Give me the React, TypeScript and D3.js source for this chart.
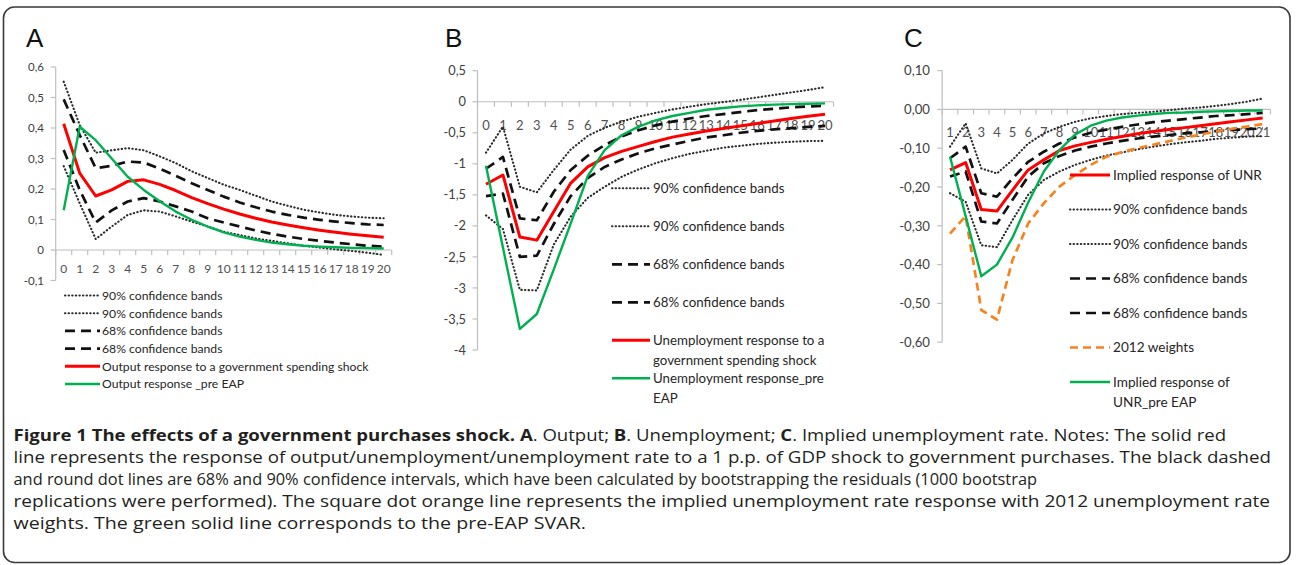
import React from 'react';
import * as d3 from 'd3';

// ---------- DATA ----------
const catsA = [0, 1, 2, 3, 4, 5, 6, 7, 8, 9, 10, 11, 12, 13, 14, 15, 16, 17, 18, 19, 20];
const catsB = [0, 1, 2, 3, 4, 5, 6, 7, 8, 9, 10, 11, 12, 13, 14, 15, 16, 17, 18, 19, 20];
const catsC = [1, 2, 3, 4, 5, 6, 7, 8, 9, 10, 11, 12, 13, 14, 15, 16, 17, 18, 19, 20, 21];

const yTicksA = [-0.1, 0, 0.1, 0.2, 0.3, 0.4, 0.5, 0.6];
const yLabelsA = ['-0,1', '0', '0,1', '0,2', '0,3', '0,4', '0,5', '0,6'];
const yTicksB = [-4, -3.5, -3, -2.5, -2, -1.5, -1, -0.5, 0, 0.5];
const yLabelsB = ['-4', '-3,5', '-3', '-2,5', '-2', '-1,5', '-1', '-0,5', '0', '0,5'];
const yTicksC = [-0.6, -0.5, -0.4, -0.3, -0.2, -0.1, 0, 0.1];
const yLabelsC = ['-0,60', '-0,50', '-0,40', '-0,30', '-0,20', '-0,10', '0,00', '0,10'];

// Panel A: Output
const up90A = [0.552, 0.41, 0.319, 0.327, 0.334, 0.327, 0.307, 0.285, 0.258, 0.236, 0.214, 0.197, 0.178, 0.159, 0.145, 0.132, 0.123, 0.115, 0.11, 0.106, 0.104];
const lo90A = [0.275, 0.153, 0.036, 0.077, 0.115, 0.13, 0.126, 0.11, 0.093, 0.077, 0.06, 0.049, 0.038, 0.03, 0.022, 0.014, 0.008, 0.002, -0.003, -0.009, -0.016];
const up68A = [0.494, 0.377, 0.268, 0.276, 0.29, 0.287, 0.267, 0.243, 0.219, 0.197, 0.175, 0.156, 0.14, 0.126, 0.115, 0.106, 0.099, 0.093, 0.088, 0.084, 0.082];
const lo68A = [0.328, 0.197, 0.09, 0.13, 0.159, 0.17, 0.159, 0.143, 0.126, 0.104, 0.09, 0.077, 0.064, 0.053, 0.044, 0.036, 0.03, 0.024, 0.019, 0.014, 0.011];
const redA = [0.414, 0.252, 0.177, 0.197, 0.225, 0.23, 0.215, 0.195, 0.172, 0.152, 0.134, 0.118, 0.104, 0.092, 0.082, 0.073, 0.065, 0.058, 0.052, 0.047, 0.042];
const greenA = [0.13, 0.404, 0.36, 0.3, 0.24, 0.197, 0.16, 0.126, 0.099, 0.077, 0.058, 0.044, 0.033, 0.024, 0.019, 0.014, 0.011, 0.009, 0.007, 0.006, 0.005];

// Panel B: Unemployment
const up90B = [-0.82, -0.4, -1.37, -1.46, -1.1, -0.77, -0.55, -0.42, -0.32, -0.24, -0.18, -0.124, -0.08, -0.038, -0.005, 0.03, 0.07, 0.11, 0.15, 0.19, 0.235];
const lo90B = [-1.83, -2.05, -3.03, -3.04, -2.3, -1.85, -1.55, -1.37, -1.21, -1.09, -0.99, -0.91, -0.84, -0.79, -0.74, -0.71, -0.68, -0.66, -0.645, -0.634, -0.63];
const up68B = [-1.08, -0.89, -1.88, -1.91, -1.45, -1.1, -0.87, -0.7, -0.56, -0.46, -0.38, -0.32, -0.27, -0.23, -0.2, -0.167, -0.134, -0.113, -0.09, -0.075, -0.065];
const lo68B = [-1.52, -1.48, -2.5, -2.48, -1.97, -1.52, -1.23, -1.05, -0.93, -0.83, -0.75, -0.69, -0.63, -0.575, -0.54, -0.5, -0.47, -0.446, -0.425, -0.405, -0.39];
const redB = [-1.33, -1.18, -2.18, -2.23, -1.77, -1.31, -1.05, -0.9, -0.8, -0.72, -0.64, -0.57, -0.52, -0.47, -0.43, -0.39, -0.35, -0.31, -0.27, -0.235, -0.2];
const greenB = [-1.03, -2.35, -3.66, -3.42, -2.7, -1.96, -1.2, -0.78, -0.54, -0.4, -0.3, -0.23, -0.18, -0.13, -0.1, -0.075, -0.058, -0.046, -0.038, -0.032, -0.027];

// Panel C: Implied unemployment rate
const redC = [-0.156, -0.137, -0.258, -0.262, -0.208, -0.156, -0.13, -0.106, -0.094, -0.085, -0.077, -0.07, -0.063, -0.057, -0.052, -0.047, -0.042, -0.037, -0.032, -0.027, -0.022];
const up90C = [-0.096, -0.036, -0.152, -0.165, -0.13, -0.088, -0.062, -0.045, -0.032, -0.023, -0.017, -0.012, -0.009, -0.006, -0.002, 0.002, 0.005, 0.009, 0.014, 0.02, 0.028];
const lo90C = [-0.216, -0.238, -0.35, -0.355, -0.285, -0.22, -0.182, -0.16, -0.143, -0.13, -0.119, -0.111, -0.103, -0.096, -0.09, -0.085, -0.081, -0.076, -0.073, -0.07, -0.069];
const up68C = [-0.126, -0.096, -0.216, -0.225, -0.178, -0.135, -0.109, -0.088, -0.072, -0.06, -0.052, -0.045, -0.039, -0.033, -0.029, -0.025, -0.021, -0.017, -0.015, -0.012, -0.009];
const lo68C = [-0.173, -0.16, -0.289, -0.294, -0.233, -0.173, -0.139, -0.12, -0.106, -0.096, -0.088, -0.081, -0.075, -0.07, -0.066, -0.062, -0.059, -0.056, -0.053, -0.051, -0.049];
const orangeC = [-0.32, -0.275, -0.517, -0.542, -0.388, -0.294, -0.242, -0.199, -0.169, -0.143, -0.122, -0.11, -0.1, -0.091, -0.082, -0.073, -0.065, -0.057, -0.05, -0.044, -0.038];
const greenC = [-0.122, -0.275, -0.43, -0.4, -0.33, -0.24, -0.16, -0.105, -0.065, -0.042, -0.029, -0.021, -0.016, -0.012, -0.009, -0.008, -0.006, -0.005, -0.004, -0.003, -0.003];

const legendA = [
  ['90% confidence bands'], ['90% confidence bands'], ['68% confidence bands'], ['68% confidence bands'],
  ['Output response to a government spending shock'], ['Output response _pre EAP'],
];
const legendB = [
  ['90% confidence bands'], ['90% confidence bands'], ['68% confidence bands'], ['68% confidence bands'],
  ['Unemployment response to a', 'government spending shock'], ['Unemployment response_pre', 'EAP'],
];
const legendC = [
  ['Implied response of UNR'], ['90% confidence bands'], ['90% confidence bands'], ['68% confidence bands'],
  ['68% confidence bands'], ['2012 weights'], ['Implied response of', 'UNR_pre EAP'],
];

const captionLines = [
  [
    { t: 'Figure 1 The effects of a government purchases shock. A', b: true },
    { t: '. Output; ', b: false },
    { t: 'B', b: true },
    { t: '. Unemployment; ', b: false },
    { t: 'C', b: true },
    { t: '. Implied unemployment rate. Notes: The solid red', b: false },
  ],
  [{ t: 'line represents the response of output/unemployment/unemployment rate to a 1 p.p. of GDP shock to government purchases. The black dashed', b: false }],
  [{ t: 'and round dot lines are 68% and 90% confidence intervals, which have been calculated by bootstrapping the residuals (1000 bootstrap', b: false }],
  [{ t: 'replications were performed). The square dot orange line represents the implied unemployment rate response with 2012 unemployment rate', b: false }],
  [{ t: 'weights. The green solid line corresponds to the pre-EAP SVAR.', b: false }],
];
const captionEnds = [1226, 1271, 1037, 1270, 586];

// ---------- STYLES ----------
type St = { stroke: string; w: number; dash?: string; cap?: 'round' | 'butt' };
const S: Record<string, St> = {
  dot: { stroke: '#2b2b2b', w: 2.1, dash: '0.4 3.2', cap: 'round' },
  dash: { stroke: '#111', w: 2.7, dash: '10 6', cap: 'butt' },
  red: { stroke: '#ff0000', w: 3 },
  green: { stroke: '#00b050', w: 2.4 },
  orange: { stroke: '#f5841f', w: 2.7, dash: '8 5', cap: 'butt' },
};

const FONT = 'Lato, "Open Sans", sans-serif';

type PanelProps = {
  letter: string; letterX: number;
  cats: number[]; xStart: number; xEnd: number;
  yDomain: [number, number]; yRange: [number, number];
  yTicks: number[]; yLabels: string[]; yFs: number; yLabelX: number;
  xFs: number; xLabelOff: number;
  series: { v: number[]; s: St }[];
  legend: { labels: string[][]; styles: St[]; top: number; step: number; x0: number; x1: number; tx: number; fs: number; lh: number };
};

function Panel(p: PanelProps) {
  const x = d3.scaleBand<number>().domain(p.cats).range([p.xStart, p.xEnd]);
  const bw = x.bandwidth();
  const cx = (c: number) => (x(c) as number) + bw / 2;
  const y = d3.scaleLinear().domain(p.yDomain).range(p.yRange);
  const y0 = y(0);
  const mk = (vals: number[]) =>
    d3.line<number>().x((_, i) => cx(p.cats[i])).y((v) => y(v))(vals) || '';
  const bounds = [...p.cats.map((c) => x(c) as number), p.xEnd];
  const L = p.legend;
  return (
    <g>
      <text x={p.letterX} y={47} fontFamily='"Liberation Sans", Arial, sans-serif' fontSize={26} fill="#111">{p.letter}</text>
      {/* y axis */}
      <line x1={p.xStart} x2={p.xStart} y1={y(p.yDomain[0])} y2={y(p.yDomain[1])} stroke="#bfbfbf" strokeWidth={1.2} />
      {p.yTicks.map((t, i) => (
        <g key={'yt' + i}>
          <line x1={p.xStart - 5} x2={p.xStart} y1={y(t)} y2={y(t)} stroke="#bfbfbf" strokeWidth={1.2} />
          <text x={p.yLabelX} y={y(t)} dy="0.36em" textAnchor="end" fontFamily={FONT} fontSize={p.yFs} fill="#404040">{p.yLabels[i]}</text>
        </g>
      ))}
      {/* x axis */}
      <line x1={p.xStart} x2={p.xEnd} y1={y0} y2={y0} stroke="#bfbfbf" strokeWidth={1.2} />
      {bounds.map((b, i) => (
        <line key={'xt' + i} x1={b} x2={b} y1={y0} y2={y0 + 5} stroke="#bfbfbf" strokeWidth={1.2} />
      ))}
      {p.cats.map((c) => (
        <text key={'xl' + c} x={cx(c)} y={y0 + p.xLabelOff} dy="0.36em" textAnchor="middle" fontFamily={FONT} fontSize={p.xFs} fill="#505050">{String(c)}</text>
      ))}
      {/* series */}
      {p.series.map((sr, i) => (
        <path key={'s' + i} d={mk(sr.v)} fill="none" stroke={sr.s.stroke} strokeWidth={sr.s.w}
          strokeDasharray={sr.s.dash} strokeLinecap={sr.s.cap || 'butt'} strokeLinejoin="round" />
      ))}
      {/* legend */}
      {L.labels.map((lab, i) => {
        const ly = L.top + L.step * i;
        const st = L.styles[i];
        return (
          <g key={'lg' + i}>
            <line x1={L.x0} x2={L.x1} y1={ly} y2={ly} stroke={st.stroke} strokeWidth={st.w}
              strokeDasharray={st.dash} strokeLinecap={st.cap || 'butt'} />
            {lab.map((t, j) => (
              <text key={j} x={L.tx} y={ly + j * L.lh} dy="0.36em" fontFamily={FONT} fontSize={L.fs} fill="#262626">{t}</text>
            ))}
          </g>
        );
      })}
    </g>
  );
}

export default function App() {
  const W = 1299, H = 565;
  return (
    <svg width={W} height={H} style={{ position: 'absolute', left: 0, top: 0, background: '#fff' }}>
      <rect x={0} y={0} width={W} height={H} fill="#fff" />
      <rect x={3.5} y={7} width={1286.5} height={555.5} rx={11} fill="none" stroke="#3a3a3a" strokeWidth={1.6} />

      <Panel letter="A" letterX={26} cats={catsA} xStart={55.7} xEnd={391.7}
        yDomain={[-0.1, 0.6]} yRange={[280.5, 67]} yTicks={yTicksA} yLabels={yLabelsA} yFs={11.5} yLabelX={44}
        xFs={12} xLabelOff={19}
        series={[
          { v: up90A, s: S.dot }, { v: lo90A, s: S.dot }, { v: up68A, s: S.dash }, { v: lo68A, s: S.dash },
          { v: redA, s: S.red }, { v: greenA, s: S.green },
        ]}
        legend={{ labels: legendA, styles: [S.dot, S.dot, S.dash, S.dash, S.red, S.green], top: 295.5, step: 17.7, x0: 65, x1: 100, tx: 102, fs: 12.2, lh: 0 }}
      />
      <Panel letter="B" letterX={445} cats={catsB} xStart={477.5} xEnd={833.5}
        yDomain={[-4, 0.5]} yRange={[350, 70.7]} yTicks={yTicksB} yLabels={yLabelsB} yFs={12.8} yLabelX={466}
        xFs={13} xLabelOff={24}
        series={[
          { v: up90B, s: S.dot }, { v: lo90B, s: S.dot }, { v: up68B, s: S.dash }, { v: lo68B, s: S.dash },
          { v: redB, s: S.red }, { v: greenB, s: S.green },
        ]}
        legend={{ labels: legendB, styles: [S.dot, S.dot, S.dash, S.dash, S.red, S.green], top: 188.3, step: 38, x0: 612, x1: 650, tx: 653, fs: 13.3, lh: 20 }}
      />
      <Panel letter="C" letterX={904} cats={catsC} xStart={942.2} xEnd={1270.5}
        yDomain={[-0.6, 0.1]} yRange={[342.2, 70.6]} yTicks={yTicksC} yLabels={yLabelsC} yFs={13.2} yLabelX={930}
        xFs={13} xLabelOff={22.5}
        series={[
          { v: up90C, s: S.dot }, { v: lo90C, s: S.dot }, { v: up68C, s: S.dash }, { v: lo68C, s: S.dash },
          { v: redC, s: S.red }, { v: orangeC, s: S.orange }, { v: greenC, s: S.green },
        ]}
        legend={{ labels: legendC, styles: [S.red, S.dot, S.dot, S.dash, S.dash, S.orange, S.green], top: 175, step: 34.5, x0: 1070, x1: 1110, tx: 1113, fs: 13.6, lh: 20 }}
      />

      {captionLines.map((ln, i) => (
        <text key={'cap' + i} x={13.5} y={441 + 22.1 * i} fontFamily='"Open Sans", sans-serif' fontSize={16} fill="#231f20"
          textLength={captionEnds[i] - 13.5} lengthAdjust="spacingAndGlyphs">
          {ln.map((sp, j) => (
            <tspan key={j} fontWeight={sp.b ? 700 : 400}>{sp.t}</tspan>
          ))}
        </text>
      ))}
    </svg>
  );
}
